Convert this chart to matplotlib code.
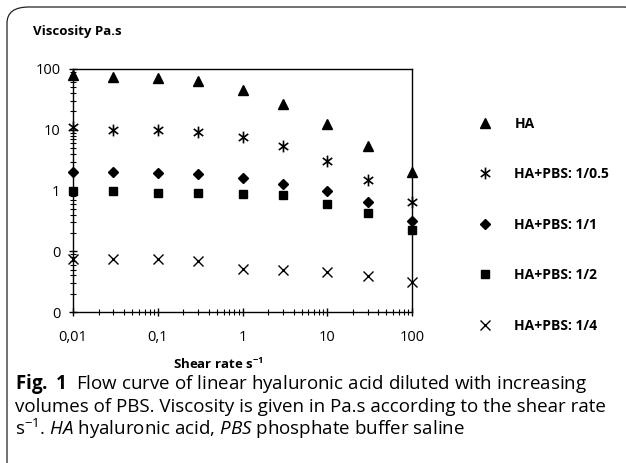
import matplotlib
matplotlib.use("Agg")
import matplotlib.pyplot as plt
from matplotlib.patches import FancyBboxPatch
from matplotlib.path import Path

plt.rcParams["font.family"] = ["Open Sans", "DejaVu Sans"]
plt.rcParams["mathtext.fontset"] = "custom"
plt.rcParams["mathtext.rm"] = "Open Sans"
plt.rcParams["mathtext.it"] = "Open Sans:italic"
plt.rcParams["mathtext.bf"] = "Open Sans:bold"

# ---- data ----
shear_rate = [0.01, 0.03, 0.1, 0.3, 1, 3, 10, 30, 100]

visc_ha = [80, 74, 72, 63, 45, 27, 12.5, 5.5, 2.0]
visc_1_05 = [11, 10, 10, 9.3, 7.7, 5.5, 3.1, 1.5, 0.64]
visc_1_1 = [2.0, 2.0, 1.95, 1.9, 1.63, 1.3, 1.0, 0.64, 0.31]
visc_1_2 = [1.0, 1.0, 0.9, 0.9, 0.88, 0.83, 0.6, 0.42, 0.22]
visc_1_4 = [0.074, 0.074, 0.074, 0.07, 0.052, 0.049, 0.046, 0.039, 0.031]

series_labels = ["HA", "HA+PBS: 1/0.5", "HA+PBS: 1/1", "HA+PBS: 1/2", "HA+PBS: 1/4"]

xtick_vals = [0.01, 0.1, 1, 10, 100]
xtick_labels = ["0,01", "0,1", "1", "10", "100"]
ytick_vals = [100, 10, 1, 0.1, 0.01]
ytick_labels = ["100", "10", "1", "0", "0"]

W, H = 626, 463
fig = plt.figure(figsize=(W / 100, H / 100), dpi=100)

# rounded frame around the figure panel
frame = FancyBboxPatch((7 / W, -0.05), 640 / W, 1 - 7 / H + 0.05,
                       boxstyle="round,pad=0,rounding_size=0.035",
                       transform=fig.transFigure, fill=False,
                       edgecolor="#222222", linewidth=0.9, clip_on=True)
fig.patches.append(frame)

# excel-style star: an x with a vertical bar through it
star = Path([(0, -1), (0, 1), (-0.8, -0.6), (0.8, 0.6), (-0.8, 0.6), (0.8, -0.6)],
            [Path.MOVETO, Path.LINETO, Path.MOVETO, Path.LINETO, Path.MOVETO, Path.LINETO])

ax = fig.add_axes([73 / W, 1 - 312 / H, 339 / W, 243 / H])
ax.set_xscale("log")
ax.set_yscale("log")
ax.set_xlim(0.01, 100)
ax.set_ylim(0.01, 100)

kw = dict(linestyle="none", color="black", clip_on=False)
ax.plot(shear_rate, visc_ha, marker="^", ms=7, label=series_labels[0], **kw)
ax.plot(shear_rate, visc_1_05, marker=star, ms=8.5, mew=1.2, fillstyle="none",
        label=series_labels[1], **kw)
ax.plot(shear_rate, visc_1_1, marker="D", ms=5, label=series_labels[2], **kw)
ax.plot(shear_rate, visc_1_2, marker="s", ms=6, label=series_labels[3], **kw)
ax.plot(shear_rate, visc_1_4, marker="x", ms=7.5, mew=1.0, label=series_labels[4], **kw)

ax.set_xticks(xtick_vals)
ax.set_xticklabels(xtick_labels)
ax.set_yticks(ytick_vals)
ax.set_yticklabels(ytick_labels)
ax.tick_params(axis="both", which="major", direction="inout", length=6,
               width=1, labelsize=10.5)
ax.tick_params(axis="x", which="major", pad=10)
ax.tick_params(axis="y", which="major", pad=6)
ax.tick_params(axis="both", which="minor", direction="inout", length=4, width=0.8)
ax.tick_params(axis="x", which="both", top=False)
ax.tick_params(axis="y", which="both", right=False)
for s in ax.spines.values():
    s.set_linewidth(1)
    s.set_color("black")

fig.text(33 / W, 1 - 32 / H, "Viscosity Pa.s", fontsize=9.5, fontweight="bold",
         ha="left", va="center")
fig.text(218 / W, 1 - 364 / H, r"Shear rate s$^{\mathbf{-1}}$", fontsize=9.5,
         fontweight="bold", ha="center", va="center")

leg = fig.legend(loc="upper left", bbox_to_anchor=(470 / W, 1 - 110 / H),
                 frameon=False, prop={"size": 10, "weight": "bold"},
                 labelspacing=2.62, handlelength=1.2, handletextpad=1.5,
                 borderpad=0)

cap_kw = dict(fontsize=13.5, ha="left", va="center")
fig.text(15 / W, 1 - 384 / H,
         r"$\mathbf{Fig.\ 1}$  Flow curve of linear hyaluronic acid diluted with increasing", **cap_kw)
fig.text(15 / W, 1 - 407 / H,
         "volumes of PBS. Viscosity is given in Pa.s according to the shear rate", **cap_kw)
fig.text(15 / W, 1 - 429 / H,
         r"s$^{\mathrm{-1}}$. $\mathit{HA}$ hyaluronic acid, $\mathit{PBS}$ phosphate buffer saline", **cap_kw)

fig.savefig("out.png", dpi=100)
